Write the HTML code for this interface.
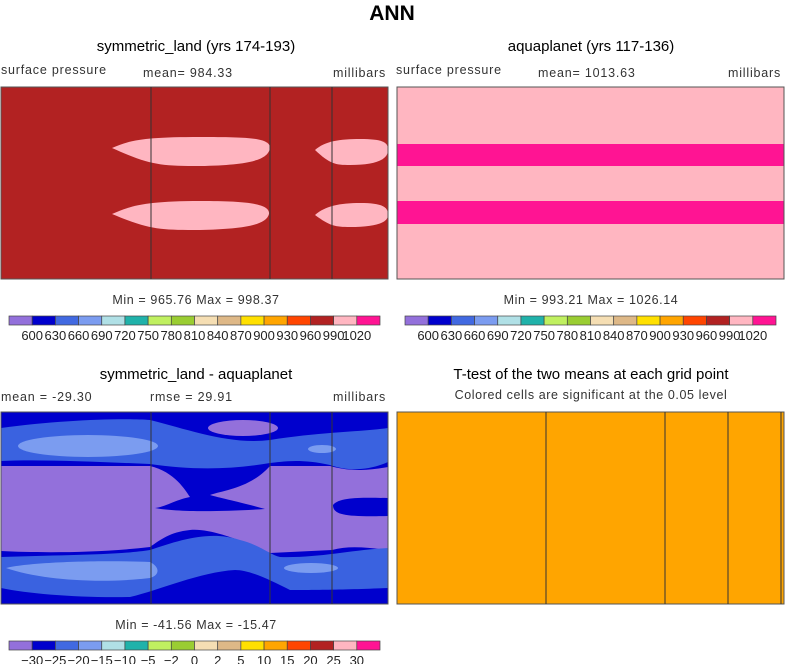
<!DOCTYPE html>
<html><head><meta charset="utf-8"><style>
body{margin:0;background:#fff;width:785px;height:664px;overflow:hidden;font-family:"Liberation Sans",sans-serif}
svg text{font-family:"Liberation Sans",sans-serif}
</style></head><body>
<svg id="s" width="785" height="664" viewBox="0 0 785 664">
<text x="392" y="20" text-anchor="middle" font-size="21" font-weight="bold">ANN</text>

<!-- top-left panel -->
<g>
<text x="196" y="51" text-anchor="middle" font-size="15">symmetric_land (yrs 174-193)</text>
<text x="1" y="74" font-size="12.5" fill="#333" letter-spacing="0.8">surface pressure</text>
<text x="143" y="77" font-size="12.5" fill="#333" letter-spacing="0.8">mean= 984.33</text>
<text x="333" y="77" font-size="12.5" fill="#333" letter-spacing="0.8">millibars</text>
<rect x="1" y="87" width="387" height="192" fill="#b22222"/>
<path d="M112,148 C130,140 145,137 200,137 C250,137 270,138 270,148 C268,160 250,165 200,166 C160,166 150,165 112,148Z" fill="#ffb6c1"/>
<path d="M112,214 C130,206 145,201 200,201 C250,201 270,204 269,214 C266,226 240,229 200,230 C160,230 150,230 112,214Z" fill="#ffb6c1"/>
<path d="M315,150 C325,141 340,139 360,139 C385,139 388,143 388,150 C388,160 375,165 350,165 C335,165 330,164 315,150Z" fill="#ffb6c1"/>
<path d="M315,215 C325,206 340,203 360,203 C385,203 388,208 388,215 C388,223 375,227 350,227 C335,227 330,226 315,215Z" fill="#ffb6c1"/>
<rect x="1" y="87" width="387" height="192" fill="none" stroke="#555"/>
<path d="M151,87V279M270,87V279M332,87V279" stroke="#333" fill="none"/>
<text x="196" y="304" text-anchor="middle" font-size="12.5" fill="#333" letter-spacing="0.6">Min = 965.76 Max = 998.37</text>
</g>

<!-- top-right panel -->
<g>
<text x="591" y="51" text-anchor="middle" font-size="15">aquaplanet (yrs 117-136)</text>
<text x="396" y="74" font-size="12.5" fill="#333" letter-spacing="0.8">surface pressure</text>
<text x="538" y="77" font-size="12.5" fill="#333" letter-spacing="0.8">mean= 1013.63</text>
<text x="728" y="77" font-size="12.5" fill="#333" letter-spacing="0.8">millibars</text>
<rect x="397" y="87" width="387" height="192" fill="#ffb6c1"/>
<rect x="397" y="144" width="387" height="22" fill="#ff1493"/>
<rect x="397" y="201" width="387" height="23" fill="#ff1493"/>
<rect x="397" y="87" width="387" height="192" fill="none" stroke="#555"/>
<text x="591" y="304" text-anchor="middle" font-size="12.5" fill="#333" letter-spacing="0.6">Min = 993.21 Max = 1026.14</text>
</g>

<!-- bottom-left panel -->
<g>
<text x="196" y="379" text-anchor="middle" font-size="15">symmetric_land - aquaplanet</text>
<text x="1" y="401" font-size="12.5" fill="#333" letter-spacing="0.8">mean = -29.30</text>
<text x="150" y="401" font-size="12.5" fill="#333" letter-spacing="0.8">rmse =  29.91</text>
<text x="333" y="401" font-size="12.5" fill="#333" letter-spacing="0.8">millibars</text>
<rect x="1" y="412" width="387" height="192" fill="#0000cd"/>
<path d="M1,428 C60,420 120,418 150,420 C190,430 230,445 270,440 C320,432 360,432 388,428 L388,462 C370,470 350,472 330,465 C300,458 280,462 270,463 C230,470 190,470 150,464 C100,462 40,459 1,461Z" fill="#3a62e0"/>
<ellipse cx="88" cy="446" rx="70" ry="11" fill="#7b9cf0"/>
<ellipse cx="243" cy="428" rx="35" ry="8" fill="#9370db"/>
<ellipse cx="322" cy="449" rx="14" ry="4" fill="#7b9cf0"/>
<path d="M1,466 L150,466 C175,472 185,490 190,497 C175,500 165,507 155,508 C175,512 220,512 265,509 C240,502 220,498 210,495 C225,490 250,488 270,466 L330,466 C345,470 360,472 388,467 L388,498 C370,498 340,496 333,505 C333,515 345,517 388,516 L388,550 C370,548 350,545 332,550 L270,553 C240,540 210,528 190,530 C170,532 160,540 150,547 C100,553 40,553 1,551Z" fill="#9370db"/>
<path d="M1,557 C60,555 120,555 150,550 C180,540 210,530 240,540 C260,545 270,555 280,557 C320,558 350,550 388,548 L388,588 C340,590 300,590 290,590 C270,580 250,570 235,570 C200,572 160,590 130,597 C80,598 30,594 1,588Z" fill="#3a62e0"/>
<path d="M6,568 C30,562 100,560 150,562 C160,567 160,575 150,578 C100,584 40,580 6,568Z" fill="#7b9cf0"/>
<ellipse cx="311" cy="568" rx="27" ry="5" fill="#7b9cf0"/>
<rect x="1" y="412" width="387" height="192" fill="none" stroke="#555"/>
<path d="M151,412V604M270,412V604M332,412V604" stroke="#333" fill="none"/>
<text x="196" y="629" text-anchor="middle" font-size="12.5" fill="#333" letter-spacing="0.6">Min = -41.56 Max = -15.47</text>
</g>

<!-- bottom-right panel -->
<g>
<text x="591" y="379" text-anchor="middle" font-size="15">T-test of the two means at each grid point</text>
<text x="591" y="399" text-anchor="middle" font-size="12.5" fill="#333" letter-spacing="0.6">Colored cells are significant at the 0.05 level</text>
<rect x="397" y="412" width="387" height="192" fill="#ffa500" stroke="#555"/>
<path d="M546,412V604M665,412V604M728,412V604M781,412V604" stroke="#333" fill="none"/>
</g>
<g id="cbars"></g>
</svg>
<script>
const colors=["#9370db","#0000cd","#4169e1","#7b9cf0","#b0e0e6","#20b2aa","#c0f060","#9acd32","#f5deb3","#deb887","#ffe000","#ffa500","#ff4500","#b22222","#ffb6c1","#ff1493"];
const absLabels=["600","630","660","690","720","750","780","810","840","870","900","930","960","990","1020"];
const diffLabels=["-30","-25","-20","-15","-10","-5","-2","0","2","5","10","15","20","25","30"];
const NS="http://www.w3.org/2000/svg";
const g=document.getElementById('cbars');
function bar(x0,y0,w,labels,name){
  const grp=document.createElementNS(NS,'g');
  
  
  const bw=w/colors.length;
  colors.forEach((c,i)=>{
    const r=document.createElementNS(NS,'rect');
    r.setAttribute('x',x0+i*bw);r.setAttribute('y',y0);r.setAttribute('width',bw);r.setAttribute('height',9);
    r.setAttribute('fill',c);r.setAttribute('stroke','#444');r.setAttribute('stroke-width','0.7');
    
    
    grp.appendChild(r);
  });
  labels.forEach((l,i)=>{
    const t=document.createElementNS(NS,'text');
    t.setAttribute('x',x0+(i+1)*bw);t.setAttribute('y',y0+24);t.setAttribute('text-anchor','middle');
    t.setAttribute('font-size','13');t.setAttribute('fill','#222');
    
    
    t.textContent=l.replace('-','\u2212');grp.appendChild(t);
  });
  g.appendChild(grp);
}
bar(9,316,371,absLabels,'colorbar-symmetric-land');
bar(405,316,371,absLabels,'colorbar-aquaplanet');
bar(9,641,371,diffLabels,'colorbar-difference');
</script>
</body></html>
